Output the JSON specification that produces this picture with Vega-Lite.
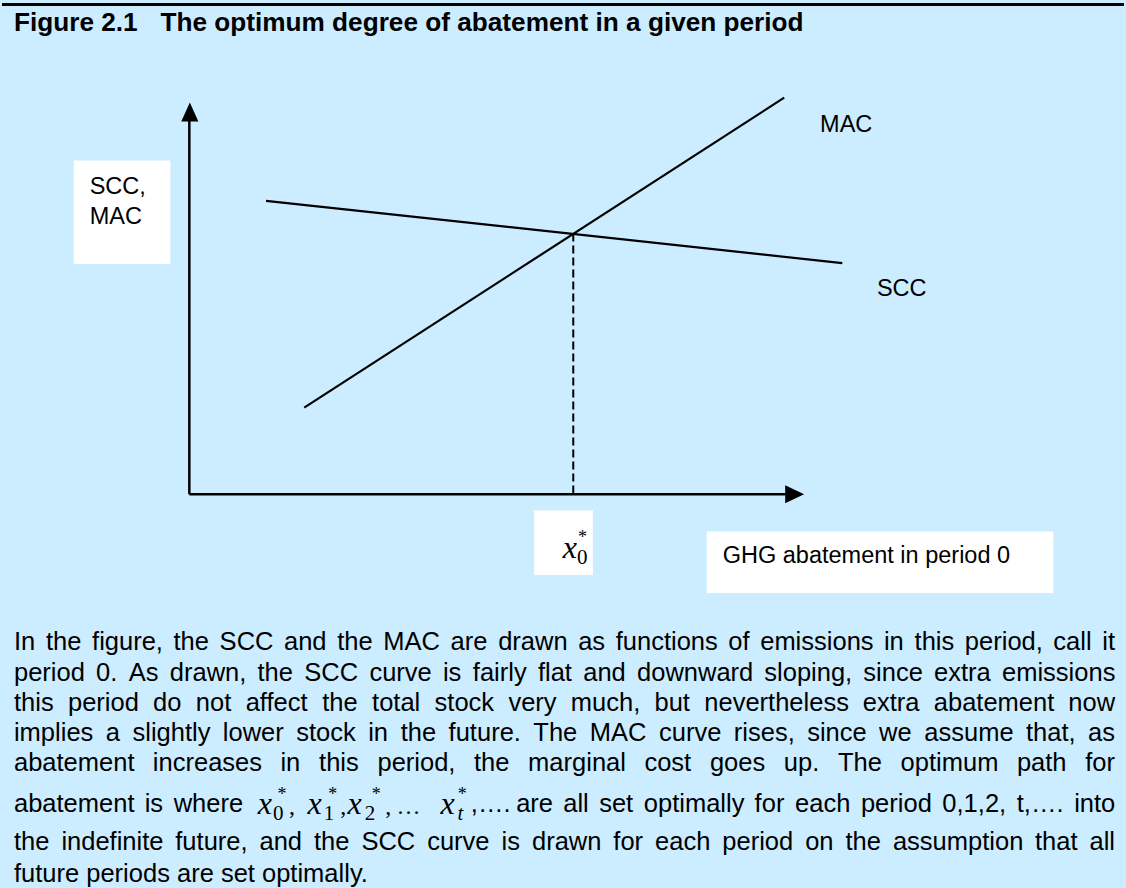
{
  "$schema": "https://vega.github.io/schema/vega-lite/v6.json",
  "width": 1126,
  "height": 888,
  "autosize": {"type": "fit", "contains": "padding"},
  "padding": 0,
  "background": "#CCECFF",
  "config": {"view": {"stroke": null}},
  "datasets": {
    "border": [{"x": -188, "y": 491.5, "x2": 938, "y2": 491.5}],
    "boxes": [
      {"name": "y label", "x": -116, "y": 335, "x2": -19, "y2": 231},
      {"name": "optimum label", "x": 346, "y": -16, "x2": 405, "y2": -81},
      {"name": "x label", "x": 519.3, "y": -37.3, "x2": 867, "y2": -99}
    ],
    "axes": [
      {"name": "abatement axis", "x": 0, "y": 0, "x2": 602, "y2": 0},
      {"name": "cost axis", "x": 0, "y": 0, "x2": 0, "y2": 381}
    ],
    "yarrow": [{"x": 0.5, "y": 383.5}],
    "xarrow": [{"x": 607.5, "y": 0}],
    "curves": [
      {"curve": "MAC", "x": 115.3, "y": 87, "x2": 597, "y2": 398},
      {"curve": "SCC", "x": 77, "y": 294.5, "x2": 655.3, "y2": 232}
    ],
    "optimum": [{"x": 385.3, "y": 261.7, "x2": 385.3, "y2": 0}],
    "title": [
      {"text": "Figure 2.1", "x": -176, "y": 464.5},
      {"text": "The optimum degree of abatement in a given period", "x": -29, "y": 464.5}
    ],
    "labels": [
      {"text": "SCC,", "x": -100, "y": 301},
      {"text": "MAC", "x": -100, "y": 271},
      {"text": "MAC", "x": 633, "y": 364},
      {"text": "SCC", "x": 690, "y": 199},
      {"text": "GHG abatement in period 0", "x": 535.3, "y": -69}
    ],
    "paragraph": [
      {"text": "In", "x": -176, "y": -156},
      {"text": "the", "x": -143.9, "y": -156},
      {"text": "figure,", "x": -97.6, "y": -156},
      {"text": "the", "x": -15.9, "y": -156},
      {"text": "SCC", "x": 30.4, "y": -156},
      {"text": "and", "x": 95.0, "y": -156},
      {"text": "the", "x": 148.4, "y": -156},
      {"text": "MAC", "x": 194.7, "y": -156},
      {"text": "are", "x": 262.2, "y": -156},
      {"text": "drawn", "x": 309.9, "y": -156},
      {"text": "as", "x": 390.2, "y": -156},
      {"text": "functions", "x": 427.9, "y": -156},
      {"text": "of", "x": 540.8, "y": -156},
      {"text": "emissions", "x": 572.9, "y": -156},
      {"text": "in", "x": 697.1, "y": -156},
      {"text": "this", "x": 727.8, "y": -156},
      {"text": "period,", "x": 778.3, "y": -156},
      {"text": "call", "x": 867.1, "y": -156},
      {"text": "it", "x": 916.2, "y": -156},
      {"text": "period", "x": -176, "y": -187},
      {"text": "0.", "x": -93.6, "y": -187},
      {"text": "As", "x": -60.9, "y": -187},
      {"text": "drawn,", "x": -19.6, "y": -187},
      {"text": "the", "x": 68.4, "y": -187},
      {"text": "SCC", "x": 115.4, "y": -187},
      {"text": "curve", "x": 180.7, "y": -187},
      {"text": "is", "x": 254.5, "y": -187},
      {"text": "fairly", "x": 284.5, "y": -187},
      {"text": "flat", "x": 349.8, "y": -187},
      {"text": "and", "x": 395.3, "y": -187},
      {"text": "downward", "x": 449.3, "y": -187},
      {"text": "sloping,", "x": 577.0, "y": -187},
      {"text": "since", "x": 676.4, "y": -187},
      {"text": "extra", "x": 747.4, "y": -187},
      {"text": "emissions", "x": 815.6, "y": -187},
      {"text": "this", "x": -176, "y": -217},
      {"text": "period", "x": -121.8, "y": -217},
      {"text": "do", "x": -36.4, "y": -217},
      {"text": "not", "x": 6.5, "y": -217},
      {"text": "affect", "x": 56.5, "y": -217},
      {"text": "the", "x": 133.4, "y": -217},
      {"text": "total", "x": 183.4, "y": -217},
      {"text": "stock", "x": 246.1, "y": -217},
      {"text": "very", "x": 320.2, "y": -217},
      {"text": "much,", "x": 382.9, "y": -217},
      {"text": "but", "x": 466.8, "y": -217},
      {"text": "nevertheless", "x": 516.8, "y": -217},
      {"text": "extra", "x": 675.9, "y": -217},
      {"text": "abatement", "x": 747.1, "y": -217},
      {"text": "now", "x": 882.1, "y": -217},
      {"text": "implies", "x": -176, "y": -248},
      {"text": "a", "x": -83.9, "y": -248},
      {"text": "slightly", "x": -57.0, "y": -248},
      {"text": "lower", "x": 33.6, "y": -248},
      {"text": "stock", "x": 107.3, "y": -248},
      {"text": "in", "x": 179.5, "y": -248},
      {"text": "the", "x": 212.1, "y": -248},
      {"text": "future.", "x": 260.2, "y": -248},
      {"text": "The", "x": 345.2, "y": -248},
      {"text": "MAC", "x": 401.9, "y": -248},
      {"text": "curve", "x": 471.3, "y": -248},
      {"text": "rises,", "x": 546.4, "y": -248},
      {"text": "since", "x": 620.0, "y": -248},
      {"text": "we", "x": 692.2, "y": -248},
      {"text": "assume", "x": 737.6, "y": -248},
      {"text": "that,", "x": 839.6, "y": -248},
      {"text": "as", "x": 901.9, "y": -248},
      {"text": "abatement", "x": -176, "y": -278},
      {"text": "increases", "x": -36.6, "y": -278},
      {"text": "in", "x": 91.4, "y": -278},
      {"text": "this", "x": 130.2, "y": -278},
      {"text": "period,", "x": 188.8, "y": -278},
      {"text": "the", "x": 285.7, "y": -278},
      {"text": "marginal", "x": 340.0, "y": -278},
      {"text": "cost", "x": 456.7, "y": -278},
      {"text": "goes", "x": 522.4, "y": -278},
      {"text": "up.", "x": 596.6, "y": -278},
      {"text": "The", "x": 651.0, "y": -278},
      {"text": "optimum", "x": 713.8, "y": -278},
      {"text": "path", "x": 830.5, "y": -278},
      {"text": "for", "x": 899.1, "y": -278},
      {"text": "abatement", "x": -176, "y": -319},
      {"text": "is", "x": -44.8, "y": -319},
      {"text": "where", "x": -15.7, "y": -319},
      {"text": ",….", "x": 282.5, "y": -319},
      {"text": "are", "x": 328, "y": -319},
      {"text": "all", "x": 375.2, "y": -319},
      {"text": "set", "x": 411.3, "y": -319},
      {"text": "optimally", "x": 456.1, "y": -319},
      {"text": "for", "x": 567.3, "y": -319},
      {"text": "each", "x": 607.9, "y": -319},
      {"text": "period", "x": 674.0, "y": -319},
      {"text": "0,1,2,", "x": 755.7, "y": -319},
      {"text": "t,….", "x": 830.4, "y": -319},
      {"text": "into", "x": 888.0, "y": -319},
      {"text": "the", "x": -176, "y": -357},
      {"text": "indefinite", "x": -128.4, "y": -357},
      {"text": "future,", "x": -14.1, "y": -357},
      {"text": "and", "x": 70.4, "y": -357},
      {"text": "the", "x": 125.1, "y": -357},
      {"text": "SCC", "x": 172.7, "y": -357},
      {"text": "curve", "x": 238.7, "y": -357},
      {"text": "is", "x": 313.3, "y": -357},
      {"text": "drawn", "x": 343.9, "y": -357},
      {"text": "for", "x": 425.5, "y": -357},
      {"text": "each", "x": 467.4, "y": -357},
      {"text": "period", "x": 534.9, "y": -357},
      {"text": "on", "x": 618.0, "y": -357},
      {"text": "the", "x": 658.5, "y": -357},
      {"text": "assumption", "x": 706.1, "y": -357},
      {"text": "that", "x": 848.7, "y": -357},
      {"text": "all", "x": 903.4, "y": -357},
      {"text": "future periods are set optimally.", "x": -176, "y": -389}
    ],
    "math": [
      {"role": "var", "text": "x", "x": 374.7, "y": -64},
      {"role": "sub", "text": "0", "x": 389, "y": -70},
      {"role": "sup", "text": "*", "x": 390, "y": -49},
      {"role": "var", "text": "x", "x": 68.7, "y": -320.7},
      {"role": "sub", "text": "0", "x": 84, "y": -327},
      {"role": "sup", "text": "*", "x": 88.5, "y": -307},
      {"role": "punct", "text": ",", "x": 100, "y": -320.7},
      {"role": "var", "text": "x", "x": 118.7, "y": -320.7},
      {"role": "sub", "text": "1", "x": 135, "y": -327},
      {"role": "sup", "text": "*", "x": 139.5, "y": -307},
      {"role": "punct", "text": ",", "x": 151.5, "y": -320.7},
      {"role": "var", "text": "x", "x": 158.7, "y": -320.7},
      {"role": "sub", "text": "2", "x": 176, "y": -327},
      {"role": "sup", "text": "*", "x": 183, "y": -307},
      {"role": "punct", "text": ",", "x": 196.5, "y": -320.7},
      {"role": "punct", "text": "…", "x": 208, "y": -320.7},
      {"role": "var", "text": "x", "x": 252, "y": -320.7},
      {"role": "subi", "text": "t", "x": 269, "y": -327},
      {"role": "sup", "text": "*", "x": 269.5, "y": -307}
    ]
  },
  "encoding": {
    "x": {"field": "x", "type": "quantitative", "scale": {"domain": [-188, 938], "nice": false, "zero": false}, "axis": null},
    "y": {"field": "y", "type": "quantitative", "scale": {"domain": [-392, 496], "nice": false, "zero": false}, "axis": null}
  },
  "layer": [
    {
      "data": {"name": "border"},
      "mark": {"type": "rule", "color": "#000000", "strokeWidth": 3},
      "encoding": {"x2": {"field": "x2"}, "y2": {"field": "y2"}}
    },
    {
      "data": {"name": "boxes"},
      "mark": {"type": "rect", "fill": "#FFFFFF", "strokeWidth": 0},
      "encoding": {"x2": {"field": "x2"}, "y2": {"field": "y2"}}
    },
    {
      "data": {"name": "axes"},
      "mark": {"type": "rule", "color": "#000000", "strokeWidth": 2.5},
      "encoding": {"x2": {"field": "x2"}, "y2": {"field": "y2"}}
    },
    {
      "data": {"name": "yarrow"},
      "mark": {"type": "point", "shape": "M0,-1L-0.9,1L0.9,1Z", "size": 361, "filled": true, "opacity": 1, "color": "#000000", "strokeWidth": 0}
    },
    {
      "data": {"name": "xarrow"},
      "mark": {"type": "point", "shape": "M1,0L-1,-0.95L-1,0.95Z", "size": 361, "filled": true, "opacity": 1, "color": "#000000", "strokeWidth": 0}
    },
    {
      "data": {"name": "curves"},
      "mark": {"type": "rule", "color": "#000000", "strokeWidth": 2.2},
      "encoding": {"x2": {"field": "x2"}, "y2": {"field": "y2"}}
    },
    {
      "data": {"name": "optimum"},
      "mark": {"type": "rule", "color": "#000000", "strokeWidth": 2, "strokeDash": [8, 4]},
      "encoding": {"x2": {"field": "x2"}, "y2": {"field": "y2"}}
    },
    {
      "data": {"name": "title"},
      "mark": {"type": "text", "align": "left", "baseline": "alphabetic", "font": "Liberation Sans", "fontSize": 26.2, "fontWeight": "bold", "color": "#000000"},
      "encoding": {"text": {"field": "text"}}
    },
    {
      "data": {"name": "labels"},
      "mark": {"type": "text", "align": "left", "baseline": "alphabetic", "font": "Liberation Sans", "fontSize": 23.5, "color": "#000000"},
      "encoding": {"text": {"field": "text"}}
    },
    {
      "data": {"name": "paragraph"},
      "mark": {"type": "text", "align": "left", "baseline": "alphabetic", "font": "Liberation Sans", "fontSize": 25.5, "color": "#000000"},
      "encoding": {"text": {"field": "text"}}
    },
    {
      "data": {"name": "math"},
      "transform": [{"filter": "datum.role === 'var'"}],
      "mark": {"type": "text", "align": "left", "baseline": "alphabetic", "font": "Liberation Serif", "fontStyle": "italic", "fontSize": 32, "color": "#000000"},
      "encoding": {"text": {"field": "text"}}
    },
    {
      "data": {"name": "math"},
      "transform": [{"filter": "datum.role === 'sub'"}],
      "mark": {"type": "text", "align": "left", "baseline": "alphabetic", "font": "Liberation Serif", "fontSize": 21, "color": "#000000"},
      "encoding": {"text": {"field": "text"}}
    },
    {
      "data": {"name": "math"},
      "transform": [{"filter": "datum.role === 'subi'"}],
      "mark": {"type": "text", "align": "left", "baseline": "alphabetic", "font": "Liberation Serif", "fontStyle": "italic", "fontSize": 21, "color": "#000000"},
      "encoding": {"text": {"field": "text"}}
    },
    {
      "data": {"name": "math"},
      "transform": [{"filter": "datum.role === 'sup'"}],
      "mark": {"type": "text", "align": "left", "baseline": "alphabetic", "font": "Liberation Serif", "fontSize": 18, "color": "#000000"},
      "encoding": {"text": {"field": "text"}}
    },
    {
      "data": {"name": "math"},
      "transform": [{"filter": "datum.role === 'punct'"}],
      "mark": {"type": "text", "align": "left", "baseline": "alphabetic", "font": "Liberation Serif", "fontSize": 24, "color": "#000000"},
      "encoding": {"text": {"field": "text"}}
    }
  ]
}
